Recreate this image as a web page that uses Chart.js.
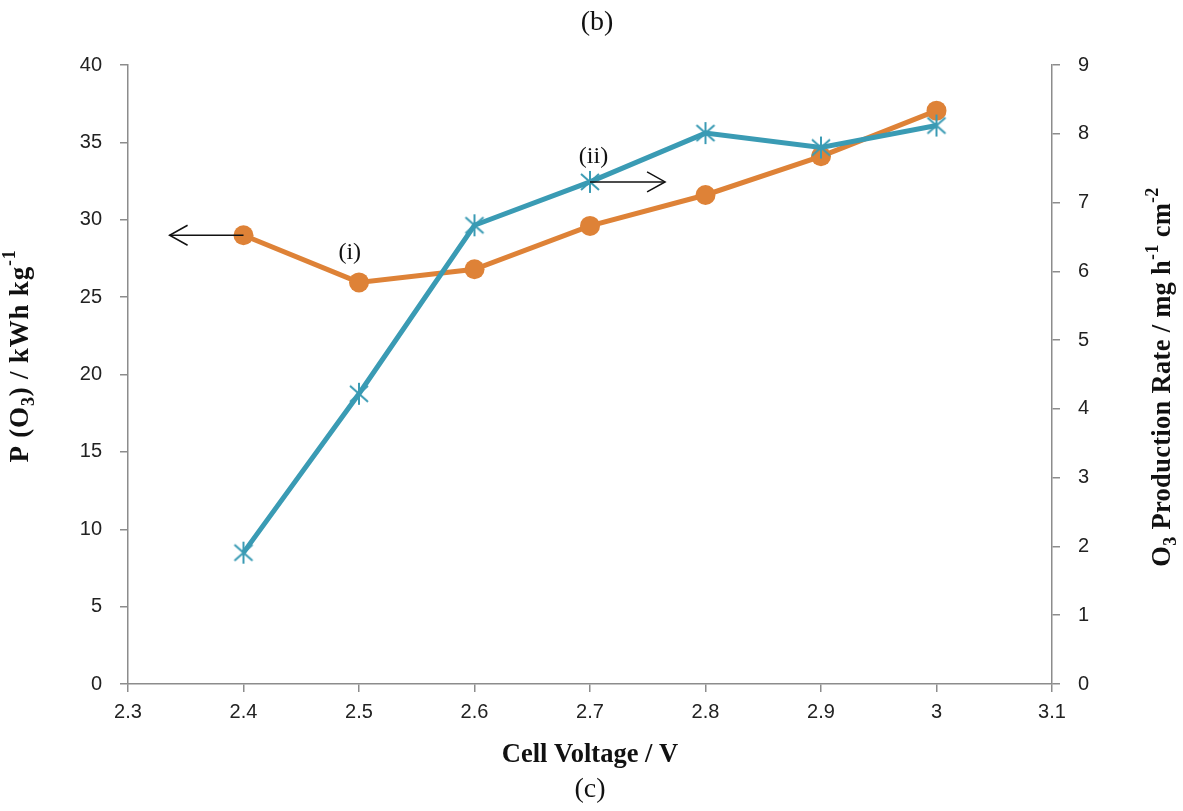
<!DOCTYPE html>
<html><head><meta charset="utf-8">
<script src="https://cdn.jsdelivr.net/npm/chart.js@4"></script>
<style>html,body{margin:0;padding:0;background:#fff}</style></head>
<body>
<canvas id="c" width="1183" height="811"></canvas>
<script>
const voltages = [2.4, 2.5, 2.6, 2.7, 2.8, 2.9, 3.0];
const energyP = [29.0, 25.95, 26.8, 29.6, 31.6, 34.1, 37.05];
const productionRate = [1.91, 4.22, 6.67, 7.3, 8.01, 7.8, 8.12];
const xTicks = [2.3, 2.4, 2.5, 2.6, 2.7, 2.8, 2.9, 3.0, 3.1];
const yLeftTicks = [0, 5, 10, 15, 20, 25, 30, 35, 40];
const yRightTicks = [0, 1, 2, 3, 4, 5, 6, 7, 8, 9];
// annotation anchors (data units)
const arrowI = {from: [2.4, 29.0], to: [2.336, 29.0], label: '(i)', labelAt: [2.492, 27.9]};
const arrowII = {from: [2.7, 7.3], to: [2.765, 7.3], label: '(ii)', labelAt: [2.703, 7.66]};

const ORANGE = '#DE8237';
const BLUE = '#3A9BB4';
const AXIS = '#8C8C8C';
const TICKFONT = "'Liberation Sans Narrow', 'Liberation Sans', Arial, sans-serif";
const SERIF = "'Liberation Serif', 'Times New Roman', serif";

// star marker (X + vertical line)
const star = document.createElement('canvas');
star.width = 24; star.height = 24;
(function(){
  const g = star.getContext('2d');
  g.strokeStyle = BLUE; g.lineWidth = 2;
  g.beginPath();
  g.moveTo(3,4); g.lineTo(21,20);
  g.moveTo(21,4); g.lineTo(3,20);
  g.moveTo(12,1); g.lineTo(12,23);
  g.stroke();
})();

function richText(ctx, segs, cx, cy, rot, size, spacing) {
  ctx.save();
  ctx.translate(cx, cy);
  ctx.rotate(rot);
  if ('letterSpacing' in ctx) ctx.letterSpacing = (spacing || 0) + 'px';
  const small = Math.round(size * 0.68);
  let total = 0;
  segs.forEach(s => {
    ctx.font = 'bold ' + (s.k ? small : size) + 'px ' + SERIF;
    s.w = ctx.measureText(s.t).width;
    total += s.w;
  });
  let x = -total / 2;
  ctx.fillStyle = '#111';
  ctx.textBaseline = 'middle';
  ctx.textAlign = 'left';
  segs.forEach(s => {
    ctx.font = 'bold ' + (s.k ? small : size) + 'px ' + SERIF;
    let dy = 0;
    if (s.k === 'sub') dy = size * 0.3;
    if (s.k === 'sup') dy = -size * 0.38;
    ctx.fillText(s.t, x, dy);
    x += s.w;
  });
  ctx.restore();
}

function arrow(ctx, x1, y1, x2, y2) {
  ctx.save();
  ctx.strokeStyle = '#111'; ctx.lineWidth = 1.5;
  ctx.beginPath(); ctx.moveTo(x1, y1); ctx.lineTo(x2, y2); ctx.stroke();
  const dir = Math.sign(x2 - x1);
  ctx.beginPath();
  ctx.moveTo(x2 - dir * 18, y2 - 10);
  ctx.lineTo(x2, y2);
  ctx.lineTo(x2 - dir * 18, y2 + 10);
  ctx.stroke();
  ctx.restore();
}

const annot = {
  id: 'annot',
  afterDatasetsDraw(chart) {
    const ctx = chart.ctx, x = chart.scales.x, yl = chart.scales.y, yr = chart.scales.y1;
    arrow(ctx, x.getPixelForValue(arrowI.from[0]), yl.getPixelForValue(arrowI.from[1]),
               x.getPixelForValue(arrowI.to[0]), yl.getPixelForValue(arrowI.to[1]));
    arrow(ctx, x.getPixelForValue(arrowII.from[0]), yr.getPixelForValue(arrowII.from[1]),
               x.getPixelForValue(arrowII.to[0]), yr.getPixelForValue(arrowII.to[1]));
    ctx.save();
    ctx.fillStyle = '#111';
    ctx.font = '24px ' + SERIF;
    ctx.textAlign = 'center'; ctx.textBaseline = 'middle';
    ctx.fillText(arrowI.label, x.getPixelForValue(arrowI.labelAt[0]), yl.getPixelForValue(arrowI.labelAt[1]));
    ctx.fillText(arrowII.label, x.getPixelForValue(arrowII.labelAt[0]), yr.getPixelForValue(arrowII.labelAt[1]));
    ctx.font = '28px ' + SERIF;
    ctx.fillText('(b)', 597, 23);
    ctx.fillText('(c)', 590, 790);
    ctx.restore();
  },
  afterDraw(chart) {
    const ctx = chart.ctx;
    richText(ctx, [{t:'Cell Voltage / V'}], 590, 755, 0, 26.5, 0);
    richText(ctx, [{t:'P (O'},{t:'3',k:'sub'},{t:') / kWh kg'},{t:'-1',k:'sup'}], 21, 356, -Math.PI/2, 27, 0.8);
    richText(ctx, [{t:'O'},{t:'3',k:'sub'},{t:' Production Rate / mg h'},{t:'-1',k:'sup'},{t:' cm'},{t:'-2',k:'sup'}], 1163, 377, -Math.PI/2, 26.5, 0.3);
  }
};

const tickFont = {family: TICKFONT, size: 20};
const gridOpt = {drawOnChartArea: false, drawTicks: true, tickLength: 8, color: AXIS, lineWidth: 1.5};
const borderOpt = {display: true, color: AXIS, width: 1.5};

new Chart(document.getElementById('c'), {
  type: 'line',
  data: {
    datasets: [
      {
        label: 'O3 production rate',
        data: voltages.map((v, i) => ({x: v, y: productionRate[i]})),
        yAxisID: 'y1',
        borderColor: BLUE, backgroundColor: BLUE,
        borderWidth: 5, pointStyle: star, pointRadius: 12,
        order: 0, tension: 0
      },
      {
        label: 'P(O3)',
        data: voltages.map((v, i) => ({x: v, y: energyP[i]})),
        yAxisID: 'y',
        borderColor: ORANGE, backgroundColor: ORANGE,
        borderWidth: 5, pointStyle: 'circle', pointRadius: 10, pointBorderWidth: 0,
        order: 1, tension: 0
      }
    ]
  },
  options: {
    responsive: false, animation: false,
    layout: {padding: {top: 65, left: 0, right: 0, bottom: 0}},
    plugins: {legend: {display: false}, tooltip: {enabled: false}},
    scales: {
      x: {
        type: 'linear', min: 2.3, max: 3.1,
        afterBuildTicks: s => { s.ticks = xTicks.map(v => ({value: v})); },
        afterFit: s => { s.height = 127; },
        ticks: {font: tickFont, color: '#222', padding: 8, maxRotation: 0, callback: v => String(+v.toFixed(1))},
        grid: gridOpt, border: borderOpt
      },
      y: {
        position: 'left', min: 0, max: 40,
        afterBuildTicks: s => { s.ticks = yLeftTicks.map(v => ({value: v})); },
        afterFit: s => { s.width = 128; },
        ticks: {font: tickFont, color: '#222', padding: 18, callback: v => String(v)},
        grid: gridOpt, border: borderOpt
      },
      y1: {
        position: 'right', min: 0, max: 9,
        afterBuildTicks: s => { s.ticks = yRightTicks.map(v => ({value: v})); },
        afterFit: s => { s.width = 131; },
        ticks: {font: tickFont, color: '#222', padding: 18, callback: v => String(v)},
        grid: gridOpt, border: borderOpt
      }
    }
  },
  plugins: [annot]
});
</script>
</body></html>
